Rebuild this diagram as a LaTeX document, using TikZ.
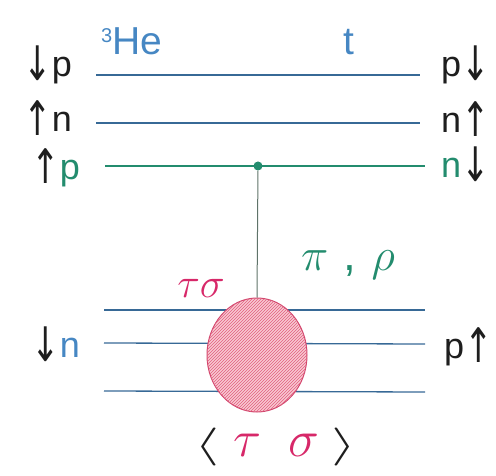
\documentclass[tikz,border=0pt]{standalone}
\RequirePackage{fix-cm}
\usepackage{fontspec}
\setmainfont{Liberation Sans}
\newfontfamily\arrowfont{DejaVu Sans}
\usetikzlibrary{patterns,shapes.geometric}
\definecolor{lineblue}{RGB}{55,105,150}
\definecolor{textblue}{RGB}{70,135,195}
\definecolor{grn}{RGB}{35,140,110}
\definecolor{pinktext}{RGB}{215,40,105}
\definecolor{pinkfill}{RGB}{248,200,210}
\definecolor{pinkhatch}{RGB}{225,95,125}
\definecolor{pinkedge}{RGB}{210,70,110}
\definecolor{vline}{RGB}{95,115,105}
\definecolor{txt}{RGB}{30,30,30}
\newcommand{\spinarrow}[1]{{\color{txt}\raisebox{-4pt}{\makebox[29pt]{\scalebox{1.0}[1.4]{\arrowfont\fontsize{34}{34}\selectfont #1}}}}}
\newcommand{\ua}{\spinarrow{↑}}
\newcommand{\da}{\spinarrow{↓}}
\begin{document}
\begin{tikzpicture}[x=1pt,y=-1pt,
  lbl/.style={font=\fontsize{36}{40}\selectfont, text=txt, inner sep=0pt},
  bline/.style={draw=lineblue, line width=1.3pt},
  gline/.style={draw=grn, line width=1.3pt}]
\useasboundingbox (0,0) rectangle (496,476);
% coordinates
\coordinate (l1a) at (96,75);  \coordinate (l1b) at (420,75);
\coordinate (l2a) at (96,123); \coordinate (l2b) at (420,123);
\coordinate (l3a) at (105,166); \coordinate (l3b) at (425,166);
\coordinate (b1a) at (104,310); \coordinate (b1b) at (425,310);
\coordinate (b2a) at (104,343); \coordinate (b2b) at (425,344);
\coordinate (b3a) at (104,391); \coordinate (b3b) at (425,392);
% top lines
\draw[bline] (l1a) -- (l1b);
\draw[bline] (l2a) -- (l2b);
\draw[gline] (l3a) -- (l3b);
% bottom lines
\draw[bline] (b1a) -- (b1b);
\draw[bline] (b2a) -- (b2b);
\draw[bline] (b3a) -- (b3b);
% blob
\node[ellipse, minimum width=100pt, minimum height=114pt, inner sep=0pt,
  draw=pinkedge, line width=1pt, fill=pinkfill,
  postaction={pattern=north east lines, pattern color=pinkhatch}] (blob) at (257,355) {};
% vertex dot and exchange line
\node[circle, fill=grn, minimum size=9pt, inner sep=0pt] (dot) at (258,166) {};
\draw[vline, line width=1pt] (dot) -- (blob.north);
% left labels
\node[lbl, anchor=base east] (lp1) at (72,77) {\da p};
\node[lbl, anchor=base east] (ln1) at (72,132) {\ua n};
\node[lbl, anchor=base east] (lp2) at (80,180) {\ua\textcolor{grn}{p}};
\node[lbl, anchor=base east] (ln2) at (80,357) {\da\textcolor{textblue}{n}};
% right labels
\node[lbl, anchor=base west] (rp1) at (441,77) {p\da};
\node[lbl, anchor=base west] (rn1) at (441,133) {n\ua};
\node[lbl, anchor=base west, text=grn] (rn2) at (441,178) {n\da};
\node[lbl, anchor=base west] (rp2) at (444,358) {p\ua};
% nuclei labels
\node[lbl, anchor=base west, text=textblue, font=\fontsize{39}{42}\selectfont] (he) at (101,55) {\raisebox{12pt}{\fontsize{20}{22}\selectfont 3}He};
\node[lbl, anchor=base, text=textblue, font=\fontsize{39}{42}\selectfont] (t) at (349,55) {t};
% meson labels
\node[text=pinktext, inner sep=0pt, font=\fontsize{42}{44}\selectfont] (ts) at (201,288) {$\tau\sigma$};
\node[text=grn, inner sep=0pt, font=\fontsize{46}{48}\selectfont] (pr) at (348,265) {$\pi$\,\,,\,\,$\rho$};
% expectation
\node[inner sep=0pt, text=txt, anchor=west, font=\fontsize{38}{44}\selectfont] (ex) at (194,447) {\scalebox{1.7}[1]{$\langle$}\hspace{14pt}{\fontsize{52}{54}\selectfont\textcolor{pinktext}{$\tau$\hspace{27pt}$\sigma$}}\hspace{12pt}\scalebox{1.7}[1]{$\rangle$}};
\end{tikzpicture}
\end{document}
